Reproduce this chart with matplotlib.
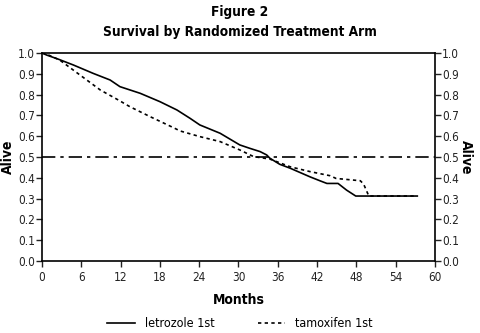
import matplotlib
matplotlib.use("Agg")
import matplotlib.pyplot as plt

plt.rcParams['font.family'] = ['DejaVu Sans', 'Liberation Sans']
plt.rcParams['font.stretch'] = 'condensed'

# survival (months, proportion alive)
letro_m = [0, 0.7, 2.5, 4.8, 7.8, 10.4, 11.9, 15, 18, 20.6, 22.6, 24.1, 27.2, 30.2, 31.7, 33.3,
           34.3, 34.8, 36.3, 37.9, 40.9, 42.5, 43.5, 45.2, 46.5, 47.9, 57.3]
letro_s = [1.0, 0.99, 0.97, 0.942, 0.902, 0.87, 0.838, 0.806, 0.766, 0.726, 0.686, 0.654, 0.614,
           0.558, 0.542, 0.526, 0.51, 0.494, 0.465, 0.446, 0.405, 0.385, 0.373, 0.373, 0.341,
           0.3125, 0.3125]

tamox_m = [0, 1, 2.7, 5.8, 8.9, 11.65, 13.4, 16.5, 20, 21.1, 24.1, 27.2, 30.2, 32.3, 34.8, 37.9,
           40.9, 44, 44.9, 48.6, 49.1, 49.9, 57.2]
tamox_s = [1.0, 0.99, 0.966, 0.894, 0.822, 0.774, 0.742, 0.694, 0.642, 0.625, 0.598, 0.574, 0.534,
           0.502, 0.49, 0.453, 0.43, 0.41, 0.397, 0.386, 0.37, 0.3125, 0.3125]

xticks = list(range(0, 61, 6))
yticks = [i / 10 for i in range(11)]

fig = plt.figure(figsize=(4.8, 3.33), dpi=100)
ax = fig.add_axes([0.0875, 0.216, 0.8187, 0.625])

ax.plot(letro_m, letro_s, color='black', lw=1.2, label='letrozole 1st')
ax.plot(tamox_m, tamox_s, color='black', lw=1.2, ls=(0, (2, 2)), label='tamoxifen 1st')
ax.axhline(0.5, color='black', lw=1.2, ls=(0, (8, 3, 2, 3)))

ax.set_xlim(0, 60)
ax.set_ylim(0, 1)
ax.set_xticks(xticks)
ax.set_yticks(yticks)
ax.set_yticklabels(['%.1f' % t for t in yticks])
ax.tick_params(axis='both', labelsize=8.5, length=4, width=1, direction='out', colors='#222222')
ax.tick_params(axis='y', right=True, labelright=True, pad=1)
for s in ax.spines.values():
    s.set_linewidth(1.2)

ax.set_xlabel('Months', fontsize=10, fontweight='bold', labelpad=6)
ax.set_ylabel('Alive', fontsize=10, fontweight='bold', labelpad=2)
fig.text(0.971, 0.528, 'Alive', rotation=270, fontsize=10, fontweight='bold', ha='center', va='center')

fig.text(0.5, 0.965, 'Figure 2', fontsize=9.8, fontweight='bold', ha='center', va='center')
fig.text(0.5, 0.905, 'Survival by Randomized Treatment Arm', fontsize=9.8, fontweight='bold',
         ha='center', va='center')

fig.legend(loc='lower center', bbox_to_anchor=(0.5, -0.025), ncol=2, frameon=False, fontsize=9,
           handlelength=2.2, columnspacing=3.5)

fig.savefig('out.png', dpi=100)
